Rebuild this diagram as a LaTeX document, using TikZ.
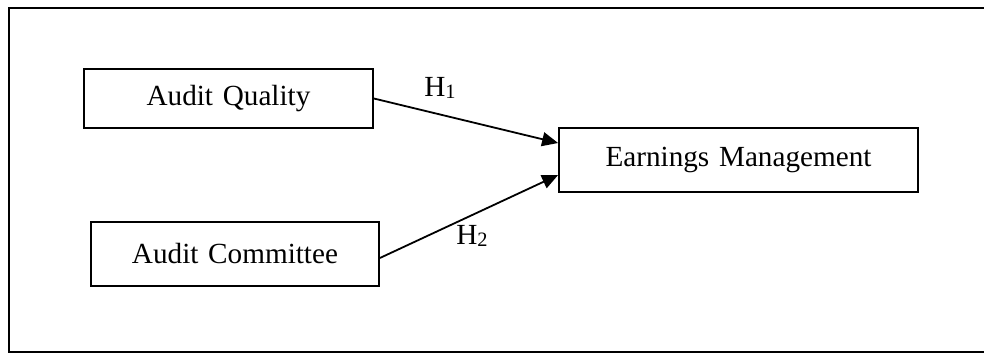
\documentclass[tikz,border=0pt]{standalone}
\usepackage{fontspec}
\setmainfont{Liberation Serif}
\usetikzlibrary{arrows.meta,calc}

% Hypothesis label: letter H with a lowered, smaller index
\newcommand{\hyplabel}[1]{H\raisebox{-1.4pt}{\fontsize{10.2}{11}\selectfont #1}}

\begin{document}
\begin{tikzpicture}[
  x=0.5pt, y=-0.5pt,
  varbox/.style={draw, line width=0.9pt, inner sep=0pt, align=center,
    font=\fontsize{14.6}{17}\selectfont},
  hyp/.style={inner sep=0pt, font=\fontsize{14.6}{17}\selectfont},
  link/.style={line width=0.9pt, -{Triangle[length=8pt,width=7pt]}},
  frameline/.style={line width=1.2pt}
]
\useasboundingbox (0,0) rectangle (984,354);

% open frame: top, left and bottom edges
\coordinate (ftr) at (984,8);
\coordinate (ftl) at (9,8);
\coordinate (fbl) at (9,352);
\coordinate (fbr) at (984,352);
\draw[frameline] (ftr) -- (ftl) -- (fbl) -- (fbr);

% variables
\node[varbox, minimum width=144.5pt, minimum height=29.5pt, text width=140pt]
  (aq) at (228.5,98.5) {Audit Quality};
\node[varbox, minimum width=144pt, minimum height=32pt, text width=140pt]
  (ac) at (235,254) {Audit Committee};
\node[varbox, minimum width=179.5pt, minimum height=32pt, text width=175pt]
  (em) at (738.5,160) {Earnings Management};

% hypothesised effects
\draw[link] (aq.east) -- ($(em.west)+(0,-17)$);
\draw[link] ($(ac.east)+(0,4)$) -- ($(em.west)+(0,15)$);

\node[hyp] (h1) at (440,88) {\hyplabel{1}};
\node[hyp] (h2) at (472,236) {\hyplabel{2}};
\end{tikzpicture}
\end{document}
